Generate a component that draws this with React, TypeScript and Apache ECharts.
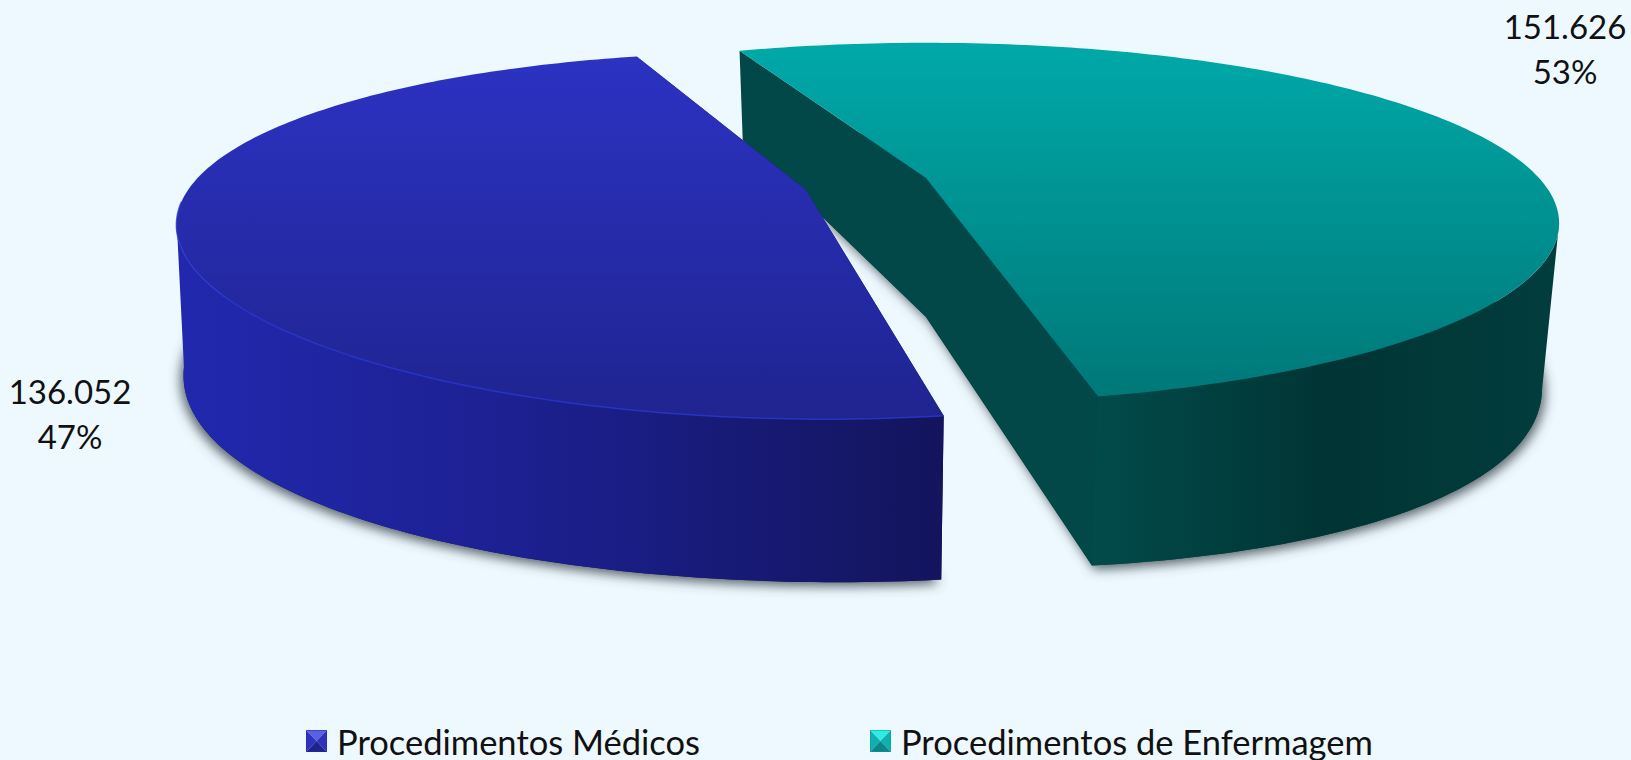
import React, { useEffect, useRef } from "react";
import * as echarts from "echarts";

const categories = ["Procedimentos Médicos", "Procedimentos de Enfermagem"];
const values = [136052, 151626];
const START_ANGLE = 77.74;

const total = values.reduce((a, b) => a + b, 0);

type Face = { cx: number; cy: number; R: number; h: number; kx: number; ky: number; shear: number; tilt: number };
type Look = {
  top: Face;
  bottom: Face;
  topColors: string[];
  wallColors: [number, string][];
  cutColor: string;
  shadowDx: number;
  rim: string | null;
  label: [number, number];
  z: number;
};

const looks: Look[] = [
  {
    top: { cx: 806, cy: 190, R: 606, h: 172, kx: 0.235, ky: 0.25, shear: -0.132, tilt: 0.024 },
    bottom: { cx: 807, cy: 332, R: 598, h: 211.5, kx: 0.24, ky: 0.155, shear: -0.13, tilt: 0.03 },
    topColors: ["#2C32C2", "#1F2490"],
    wallColors: [[0, "#2228AE"], [0.45, "#1C2090"], [1, "#13145C"]],
    cutColor: "#13145C",
    shadowDx: -3,
    rim: "#2B38D2",
    label: [70, 413],
    z: 3,
  },
  {
    top: { cx: 926, cy: 178, R: 613, h: 169, kx: 0.25, ky: 0.25, shear: 0, tilt: 0 },
    bottom: { cx: 926, cy: 317, R: 598, h: 211.5, kx: 0.24, ky: 0.155, shear: 0, tilt: 0.03 },
    topColors: ["#00A9A9", "#007878"],
    wallColors: [[0, "#024B4B"], [0.5, "#013434"], [1, "#023D3D"]],
    cutColor: "#024848",
    shadowDx: 3,
    rim: null,
    label: [1565, 48],
    z: 2,
  },
];

const bevelIcon = (a: string, b: string, c: string, d: string) =>
  "image://data:image/svg+xml;utf8," +
  encodeURIComponent(
    `<svg xmlns="http://www.w3.org/2000/svg" width="21" height="22" viewBox="0 0 21 22">` +
      `<polygon points="0,0 21,0 10.5,11" fill="${a}"/>` +
      `<polygon points="0,0 10.5,11 0,22" fill="${b}"/>` +
      `<polygon points="21,0 10.5,11 21,22" fill="${b}"/>` +
      `<polygon points="0,22 21,22 10.5,11" fill="${c}"/>` +
      `<rect x="0.5" y="0.5" width="20" height="21" fill="none" stroke="${d}" stroke-opacity="0.5"/>` +
      `</svg>`
  );

const icons = [
  bevelIcon("#5A60E6", "#2D33BE", "#1F238E", "#2528A8"),
  bevelIcon("#2CEDE6", "#10B0B0", "#0A8686", "#0C9A9A"),
];

const project = (f: Face, deg: number, r = 1): [number, number] => {
  const t = (deg * Math.PI) / 180;
  const u = r * Math.cos(t);
  const v = r * Math.sin(t);
  const dy = (f.h * v) / (1 - f.ky * v);
  const dx = (f.R * u) / (1 - f.kx * v) + f.shear * dy;
  return [f.cx + dx, f.cy + dy + f.tilt * dx];
};

const angles = (from: number, to: number): number[] => {
  const list: number[] = [];
  const n = 180;
  for (let i = 0; i <= n; i++) list.push(from + ((to - from) * i) / n);
  return list;
};

const fmt = (n: number) => String(n).replace(/\B(?=(\d{3})+$)/g, ".");

const makeRender = (index: number) => (_params: any, api: any) => {
  const look = looks[index];
  const value = api.value(0) as number;
  let from = START_ANGLE;
  for (let i = 0; i < index; i++) from += (values[i] / total) * 360;
  const to = from + (value / total) * 360;
  const { top, bottom } = look;
  const list = angles(from, to);
  const topArc = list.map((a) => project(top, a));
  const botArc = list.map((a) => project(bottom, a));
  const isFront = (a: number, k: number) => Math.sin((a * Math.PI) / 180) >= k;
  const topFront = list.filter((a) => isFront(a, top.kx)).map((a) => project(top, a));
  const botFront = list.filter((a) => isFront(a, bottom.kx)).map((a) => project(bottom, a));
  const topC = project(top, 0, 0);
  const botC = project(bottom, 0, 0);
  const children: any[] = [
    {
      type: "polygon",
      shape: { points: [botC, ...botArc] },
      style: {
        fill: look.cutColor,
        shadowBlur: 12,
        shadowColor: "rgba(60,70,80,0.85)",
        shadowOffsetX: look.shadowDx,
        shadowOffsetY: 4,
      },
    },
    {
      type: "polygon",
      shape: { points: [topC, topArc[0], botArc[0], botC] },
      style: { fill: look.cutColor },
    },
    {
      type: "polygon",
      shape: { points: [topC, topArc[topArc.length - 1], botArc[botArc.length - 1], botC] },
      style: { fill: look.cutColor },
    },
    {
      type: "polygon",
      shape: { points: [...topFront, ...botFront.slice().reverse()] },
      style: {
        fill: new echarts.graphic.LinearGradient(
          0, 0, 1, 0,
          look.wallColors.map(([offset, color]) => ({ offset, color }))
        ),
      },
    },
    {
      type: "polygon",
      shape: { points: [topC, ...topArc] },
      style: {
        fill: new echarts.graphic.LinearGradient(0, 0, 0, 1, [
          { offset: 0, color: look.topColors[0] },
          { offset: 1, color: look.topColors[1] },
        ]),
      },
    },
  ];
  if (look.rim) {
    children.push({
      type: "polyline",
      shape: { points: topArc.slice(0, Math.round(topArc.length * 0.55)) },
      style: { stroke: look.rim, lineWidth: 1.5, fill: "none", opacity: 0.8 },
    });
  }
  children.push({
    type: "text",
    x: look.label[0],
    y: look.label[1],
    style: {
      text: `${fmt(value)}\n${Math.round((value / total) * 100)}%`,
      fontFamily: "Lato",
      fontSize: 33,
      lineHeight: 45,
      fill: "#111111",
      align: "center",
      verticalAlign: "middle",
    },
  });
  return { type: "group", children };
};

export default function App() {
  const ref = useRef<HTMLDivElement>(null);
  useEffect(() => {
    document.body.style.margin = "0";
    const chart = echarts.init(ref.current!, null, { renderer: "svg" });
    chart.setOption({
      animation: false,
      backgroundColor: "#EEF9FF",
      legend: {
        left: 306,
        top: 718,
        padding: 0,
        itemGap: 170,
        itemWidth: 21,
        itemHeight: 22,
        data: categories.map((name, i) => ({ name, icon: icons[i] })),
        textStyle: {
          fontFamily: "Lato",
          fontSize: 34.5,
          lineHeight: 36,
          color: "#111111",
          padding: [0, 0, 10, 5],
        },
      },
      series: categories.map((name, i) => ({
        type: "custom",
        name,
        coordinateSystem: "none",
        z: looks[i].z,
        silent: true,
        itemStyle: { color: looks[i].topColors[0] },
        data: [[values[i]]],
        renderItem: makeRender(i),
      })),
    });
    return () => chart.dispose();
  }, []);
  return <div ref={ref} style={{ position: "fixed", left: 0, top: 0, width: 1631, height: 760 }} />;
}
